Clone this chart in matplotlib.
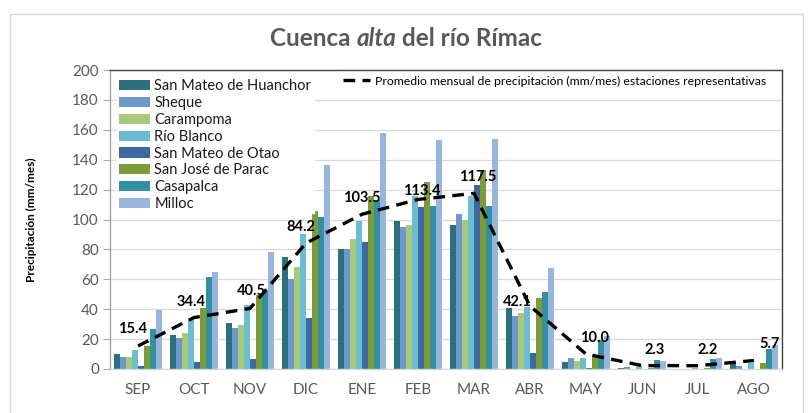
import matplotlib.pyplot as plt
import numpy as np
from matplotlib.patches import Rectangle

# Monthly data (mm/mes)
months = ["SEP", "OCT", "NOV", "DIC", "ENE", "FEB", "MAR", "ABR", "MAY", "JUN", "JUL", "AGO"]

san_mateo_huanchor = [10.0, 22.5, 30.5, 75.0, 80.5, 99.0, 96.5, 41.0, 4.7, 0.7, 0.3, 4.3]
sheque = [7.8, 21.0, 27.5, 60.5, 80.0, 95.0, 103.5, 35.5, 7.2, 1.2, 0.2, 2.0]
carampoma = [7.8, 24.3, 29.2, 68.2, 87.0, 96.0, 100.0, 37.2, 5.4, 0.3, 0.2, 0.3]
rio_blanco = [12.7, 33.2, 42.7, 90.5, 99.0, 116.0, 116.0, 41.8, 7.6, 2.0, 1.0, 4.3]
san_mateo_otao = [2.0, 4.7, 6.5, 34.0, 85.0, 108.5, 123.0, 10.5, 0.9, 0.2, 0.1, 0.2]
san_jose_parac = [15.6, 41.0, 49.5, 106.0, 116.0, 125.0, 133.0, 47.5, 9.2, 0.5, 0.7, 4.3]
casapalca = [26.5, 61.3, 52.0, 101.8, 113.0, 108.7, 109.0, 51.5, 19.4, 6.0, 6.7, 13.4]
milloc = [39.5, 65.0, 78.3, 136.5, 158.1, 153.2, 154.0, 67.6, 22.1, 5.4, 7.2, 16.1]

promedio = [15.4, 34.4, 40.5, 84.2, 103.5, 113.4, 117.5, 42.1, 10.0, 2.3, 2.2, 5.7]

stations = ["San Mateo de Huanchor", "Sheque", "Carampoma", "Río Blanco",
            "San Mateo de Otao", "San José de Parac", "Casapalca", "Milloc"]
series = [san_mateo_huanchor, sheque, carampoma, rio_blanco,
          san_mateo_otao, san_jose_parac, casapalca, milloc]
colors = ["#2E6F7D", "#6D98CC", "#A8C87C", "#6BBDD2",
          "#3D67A0", "#7C9C3A", "#3390A0", "#98B5DB"]

# label offsets (points) for the average values
label_offsets = [(-4, 12), (-2, 11), (1, 12.5), (-4, 11.5), (0, 12), (3, 6),
                 (3, 11.5), (-9, 3), (6, 11.5), (9, 11), (7, 11), (11, 12)]

plt.rcParams['font.family'] = ['Lato', 'DejaVu Sans']

fig = plt.figure(figsize=(8.1, 4.13), dpi=100)
ax = fig.add_axes([110 / 810, 1 - 369 / 413, 672 / 810, 299 / 413])

# outer chart frame
fig.patches.append(Rectangle((10 / 810, -0.05), 793 / 810, 1.05 - 14 / 413,
                             transform=fig.transFigure, fill=False,
                             edgecolor="#d9d9d9", linewidth=1))

x = np.arange(len(months))
n = len(series)
bar_w = 0.85 / n
bars = []
for i, (vals, name, c) in enumerate(zip(series, stations, colors)):
    b = ax.bar(x - 0.425 + bar_w * (i + 0.5), vals, width=bar_w, color=c,
               label=name, zorder=2)
    bars.append(b)

line, = ax.plot(x, promedio, color="black", linewidth=2.4,
                linestyle=(0, (3.5, 2.2)), zorder=3,
                label="Promedio mensual de precipitación (mm/mes) estaciones representativas")

for xi, v, off in zip(x, promedio, label_offsets):
    ax.annotate(f"{v:.1f}", (xi, v), xytext=off, textcoords="offset points",
                ha="center", va="center", fontsize=10.5, fontweight="bold",
                color="black", zorder=4)

ax.set_xlim(-0.5, len(months) - 0.5)
ax.set_ylim(0, 200)
ax.set_yticks(range(0, 201, 20))
ax.set_xticks(x)
ax.set_xticklabels(months)
ax.tick_params(axis="x", length=0, pad=10, labelsize=11, labelcolor="#595959")
ax.tick_params(axis="y", length=5, color="#a6a6a6", labelsize=11,
               labelcolor="#595959", pad=3)
ax.grid(axis="y", color="#d9d9d9", linewidth=0.9, zorder=0)
ax.set_axisbelow(True)

ax.spines["left"].set_color("#a6a6a6")
ax.spines["bottom"].set_color("#d9d9d9")
ax.spines["top"].set_color("#404040")
ax.spines["right"].set_color("#404040")
for s in ax.spines.values():
    s.set_linewidth(1)

ax.set_ylabel("Precipitación (mm/mes)", fontsize=8.5, fontweight="bold",
              color="black")
ax.yaxis.set_label_coords(-0.108, 0.5)

leg1 = ax.legend(handles=bars, loc="upper left", bbox_to_anchor=(0.0, 1.0),
                 fontsize=10.5, frameon=True, facecolor="white", edgecolor="white",
                 framealpha=1, fancybox=False, handlelength=2.1, handleheight=0.7,
                 handletextpad=0.3, labelspacing=0.19, borderpad=0.15,
                 borderaxespad=0.5)
for t in leg1.get_texts():
    t.set_color("#1a1a1a")
leg1.set_zorder(10)
ax.add_artist(leg1)

leg2 = ax.legend(handles=[line], loc="upper right", bbox_to_anchor=(0.985, 1.0),
                 fontsize=8.8, frameon=True, facecolor="white", edgecolor="white",
                 framealpha=1, fancybox=False, handlelength=2.2,
                 handletextpad=0.4, borderpad=0.3, borderaxespad=0.15)
leg2.set_zorder(10)

# title with italic word
t1 = fig.text(270 / 810, 1 - 50 / 413, "Cuenca ", fontsize=17.5, fontweight="bold",
              color="#595959", ha="left", va="bottom")
t2 = plt.annotate("alta", xy=(1, 0), xycoords=t1, fontsize=17.5, fontweight="bold",
                  fontstyle="italic", color="#595959", ha="left", va="bottom",
                  annotation_clip=False)
t3 = plt.annotate(" del río Rímac", xy=(1, 0), xycoords=t2, fontsize=17.5,
                  fontweight="bold", color="#595959", ha="left", va="bottom",
                  annotation_clip=False)

plt.savefig("out.png", dpi=100)
